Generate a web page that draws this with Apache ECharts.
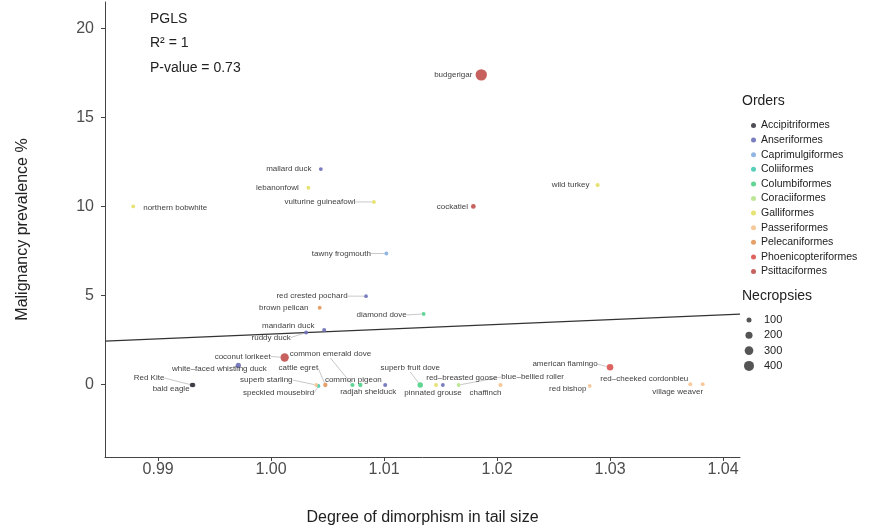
<!DOCTYPE html>
<html>
<head>
<meta charset="utf-8">
<script src="https://cdn.jsdelivr.net/npm/echarts@6/dist/echarts.min.js"></script>
<style>
html,body{margin:0;padding:0;background:#fff;}
#c{width:869px;height:529px;}
</style>
</head>
<body>
<div id="c"></div>
<script>
// ---------- DATA ----------
const xTicks = [0.99, 1.00, 1.01, 1.02, 1.03, 1.04];
const yTicks = [0, 5, 10, 15, 20];
const orders = ['Accipitriformes','Anseriformes','Caprimulgiformes','Coliiformes','Columbiformes',
  'Coraciiformes','Galliformes','Passeriformes','Pelecaniformes','Phoenicopteriformes','Psittaciformes'];
const species = ['budgerigar','mallard duck','lebanonfowl','northern bobwhite','vulturine guineafowl',
  'tawny frogmouth','wild turkey','cockatiel','red crested pochard','brown pelican','diamond dove',
  'mandarin duck','ruddy duck','coconut lorikeet','white\u2013faced whistling duck','Red Kite','bald eagle',
  'superb starling','cattle egret','common emerald dove','common pigeon','radjah shelduck',
  'superb fruit dove','pinnated grouse','speckled mousebird','red\u2013breasted goose','blue\u2013bellied roller',
  'chaffinch','american flamingo','red bishop','red\u2013cheeked cordonbleu','village weaver'];
const speciesOrder = ['Psittaciformes','Anseriformes','Galliformes','Galliformes','Galliformes',
  'Caprimulgiformes','Galliformes','Psittaciformes','Anseriformes','Pelecaniformes','Columbiformes',
  'Anseriformes','Anseriformes','Psittaciformes','Anseriformes','Accipitriformes','Accipitriformes',
  'Passeriformes','Pelecaniformes','Columbiformes','Columbiformes','Anseriformes',
  'Columbiformes','Galliformes','Coliiformes','Anseriformes','Coraciiformes',
  'Passeriformes','Phoenicopteriformes','Passeriformes','Passeriformes','Passeriformes'];
const tailDimorphism = [1.0186,1.0044,1.0033,0.9878,1.0091,
  1.0102,1.0289,1.0179,1.0084,1.0043,1.0135,
  1.0047,1.0031,1.0012,0.9971,0.9930,0.9931,
  1.0040,1.0048,1.0072,1.0079,1.0101,
  1.0132,1.0146,1.0042,1.0152,1.0166,
  1.0203,1.0300,1.0282,1.0371,1.0382];
const malignancy = [17.4,12.1,11.05,10.0,10.25,
  7.35,11.2,10.0,4.95,4.3,3.95,
  3.05,2.9,1.5,1.05,-0.05,-0.05,
  -0.05,-0.05,-0.05,-0.05,-0.05,
  -0.05,-0.05,-0.1,-0.05,-0.05,
  -0.05,0.95,-0.1,0.0,0.0];
const necropsies = [520,60,60,60,60,
  60,70,90,55,60,60,
  65,65,280,110,80,80,
  60,75,70,75,65,
  120,60,55,60,60,
  70,170,55,60,60];
const fitX = [0.9853, 1.0415];
const fitY = [2.42, 3.94];
const sizeKeys = [100, 200, 300, 400];

// ---------- STYLES ----------
const orderColors = {
  Accipitriformes:'#3b3b46', Anseriformes:'#6b6fb8', Caprimulgiformes:'#86aee0', Coliiformes:'#46c9b4',
  Columbiformes:'#4fd088', Coraciiformes:'#b7e48a', Galliformes:'#e3e065', Passeriformes:'#f6c28f',
  Pelecaniformes:'#e3965a', Phoenicopteriformes:'#d9534f', Psittaciformes:'#c0504d'
};
// label centre offset from the point (px) and whether a leader line is drawn
const labelPlace = {
  'budgerigar':[-28,0,0],'mallard duck':[-32,0,0],'lebanonfowl':[-31,0,0],'northern bobwhite':[42,1,0],
  'vulturine guineafowl':[-54,0,1],'tawny frogmouth':[-45,0,1],'wild turkey':[-27,0,0],'cockatiel':[-21,0,0],
  'red crested pochard':[-54,0,1],'brown pelican':[-36,0,0],'diamond dove':[-42,1,1],'mandarin duck':[-36,-4,0],
  'ruddy duck':[-35,5,1],'coconut lorikeet':[-42,-1,1],'white\u2013faced whistling duck':[-19,3,0],
  'Red Kite':[-43,-7,1],'bald eagle':[-22,4,0],'superb starling':[-50,-5,1],'cattle egret':[-27,-17,1],
  'common emerald dove':[-22,-31,1],'common pigeon':[-7,-5,0],'radjah shelduck':[-17,7,0],
  'superb fruit dove':[-10,-17,1],'pinnated grouse':[-3,8,0],'speckled mousebird':[-40,7,1],
  'red\u2013breasted goose':[19,-7,0],'blue\u2013bellied roller':[74,-8,1],'chaffinch':[-15,8,0],
  'american flamingo':[-45,-3,1],'red bishop':[-22,3,0],'red\u2013cheeked cordonbleu':[-46,-5,0],
  'village weaver':[-25,8,0]
};
const sizeOf = n => Math.sqrt(n) * 0.5;

// ---------- BUILD ----------
const groups = orders.map(o => []);
species.forEach((s, i) => {
  const gi = orders.indexOf(speciesOrder[i]);
  const lp = labelPlace[s] || [0, 0, 0];
  groups[gi].push({
    name: s,
    value: [tailDimorphism[i], malignancy[i], necropsies[i]],
    labelLine: { show: !!lp[2] }
  });
});

const scatterSeries = orders.map((o, gi) => ({
  name: o,
  type: 'scatter',
  data: groups[gi],
  symbolSize: v => sizeOf(v[2]),
  itemStyle: { color: orderColors[o], opacity: 0.9 },
  z: 3,
  label: {
    show: true, position: 'inside', formatter: p => p.name,
    color: '#2a2a2a', fontSize: 8, fontFamily: 'Liberation Sans, Arial, sans-serif'
  },
  labelLine: { show: false, lineStyle: { color: '#b0b0b0', width: 0.7 } },
  labelLayout: params => {
    const item = groups[gi][params.dataIndex];
    const lp = labelPlace[item.name] || [0, 0, 0];
    return { dx: lp[0], dy: lp[1] };
  },
  emphasis: { disabled: true }
}));

const fitSeries = {
  name: 'fit', type: 'line', data: fitX.map((x, i) => [x, fitY[i]]),
  showSymbol: false, symbol: 'none', silent: true, z: 2,
  lineStyle: { color: '#333', width: 1.1 }
};

const ff = 'Liberation Sans, Arial, sans-serif';
const graphics = [
  { type: 'text', left: 150, top: 12, style: { text: 'PGLS', fill: '#222', font: '14px ' + ff } },
  { type: 'text', left: 150, top: 36, style: { text: 'R\u00b2 = 1', fill: '#222', font: '14px ' + ff } },
  { type: 'text', left: 150, top: 61, style: { text: 'P-value = 0.73', fill: '#222', font: '14px ' + ff } },
  { type: 'text', left: 742, top: 94, style: { text: 'Orders', fill: '#222', font: '14px ' + ff } },
  { type: 'text', left: 742, top: 289, style: { text: 'Necropsies', fill: '#222', font: '14px ' + ff } }
];
sizeKeys.forEach((k, i) => {
  const cy = 320 + i * 15.3;
  graphics.push({ type: 'circle', shape: { cx: 749, cy: cy, r: sizeOf(k) / 2 }, style: { fill: '#555' } });
  graphics.push({ type: 'text', x: 764, y: cy, style: { text: String(k), fill: '#222', font: '11px ' + ff, textVerticalAlign: 'middle' } });
});

const option = {
  animation: false,
  backgroundColor: '#fff',
  textStyle: { fontFamily: ff },
  grid: { left: 105, right: 129, top: 2, bottom: 72, containLabel: false, outerBoundsMode: 'none' },
  xAxis: {
    type: 'value', min: 0.9853, max: 1.0415,
    splitLine: { show: false },
    axisLine: { onZero: false, lineStyle: { color: '#444', width: 1 } },
    axisTick: { show: true, length: 4, lineStyle: { color: '#444' }, customValues: xTicks },
    axisLabel: { customValues: xTicks, formatter: v => v.toFixed(2), fontSize: 16, color: '#4d4d4d', margin: 5 },
    name: 'Degree of dimorphism in tail size', nameLocation: 'middle', nameGap: 53,
    nameTextStyle: { fontSize: 16, color: '#222' }
  },
  yAxis: {
    type: 'value', min: -4.1, max: 21.5,
    splitLine: { show: false },
    axisLine: { show: true, onZero: false, lineStyle: { color: '#444', width: 1 } },
    axisTick: { show: true, length: 4, lineStyle: { color: '#444' }, customValues: yTicks },
    axisLabel: { customValues: yTicks, fontSize: 16, color: '#4d4d4d', margin: 11 },
    name: 'Malignancy prevalence %', nameLocation: 'middle', nameGap: 74,
    nameTextStyle: { fontSize: 16, color: '#222' }
  },
  legend: {
    data: orders, orient: 'vertical', left: 746, top: 115,
    icon: 'circle', itemWidth: 5, itemHeight: 5, itemGap: 3.6,
    textStyle: { fontSize: 10.5, color: '#222', lineHeight: 11, padding: [0, 0, 0, 0] },
    selectedMode: false
  },
  graphic: graphics,
  series: [fitSeries].concat(scatterSeries)
};

const chart = echarts.init(document.getElementById('c'), null, { renderer: 'canvas' });
chart.setOption(option);
</script>
</body>
</html>
